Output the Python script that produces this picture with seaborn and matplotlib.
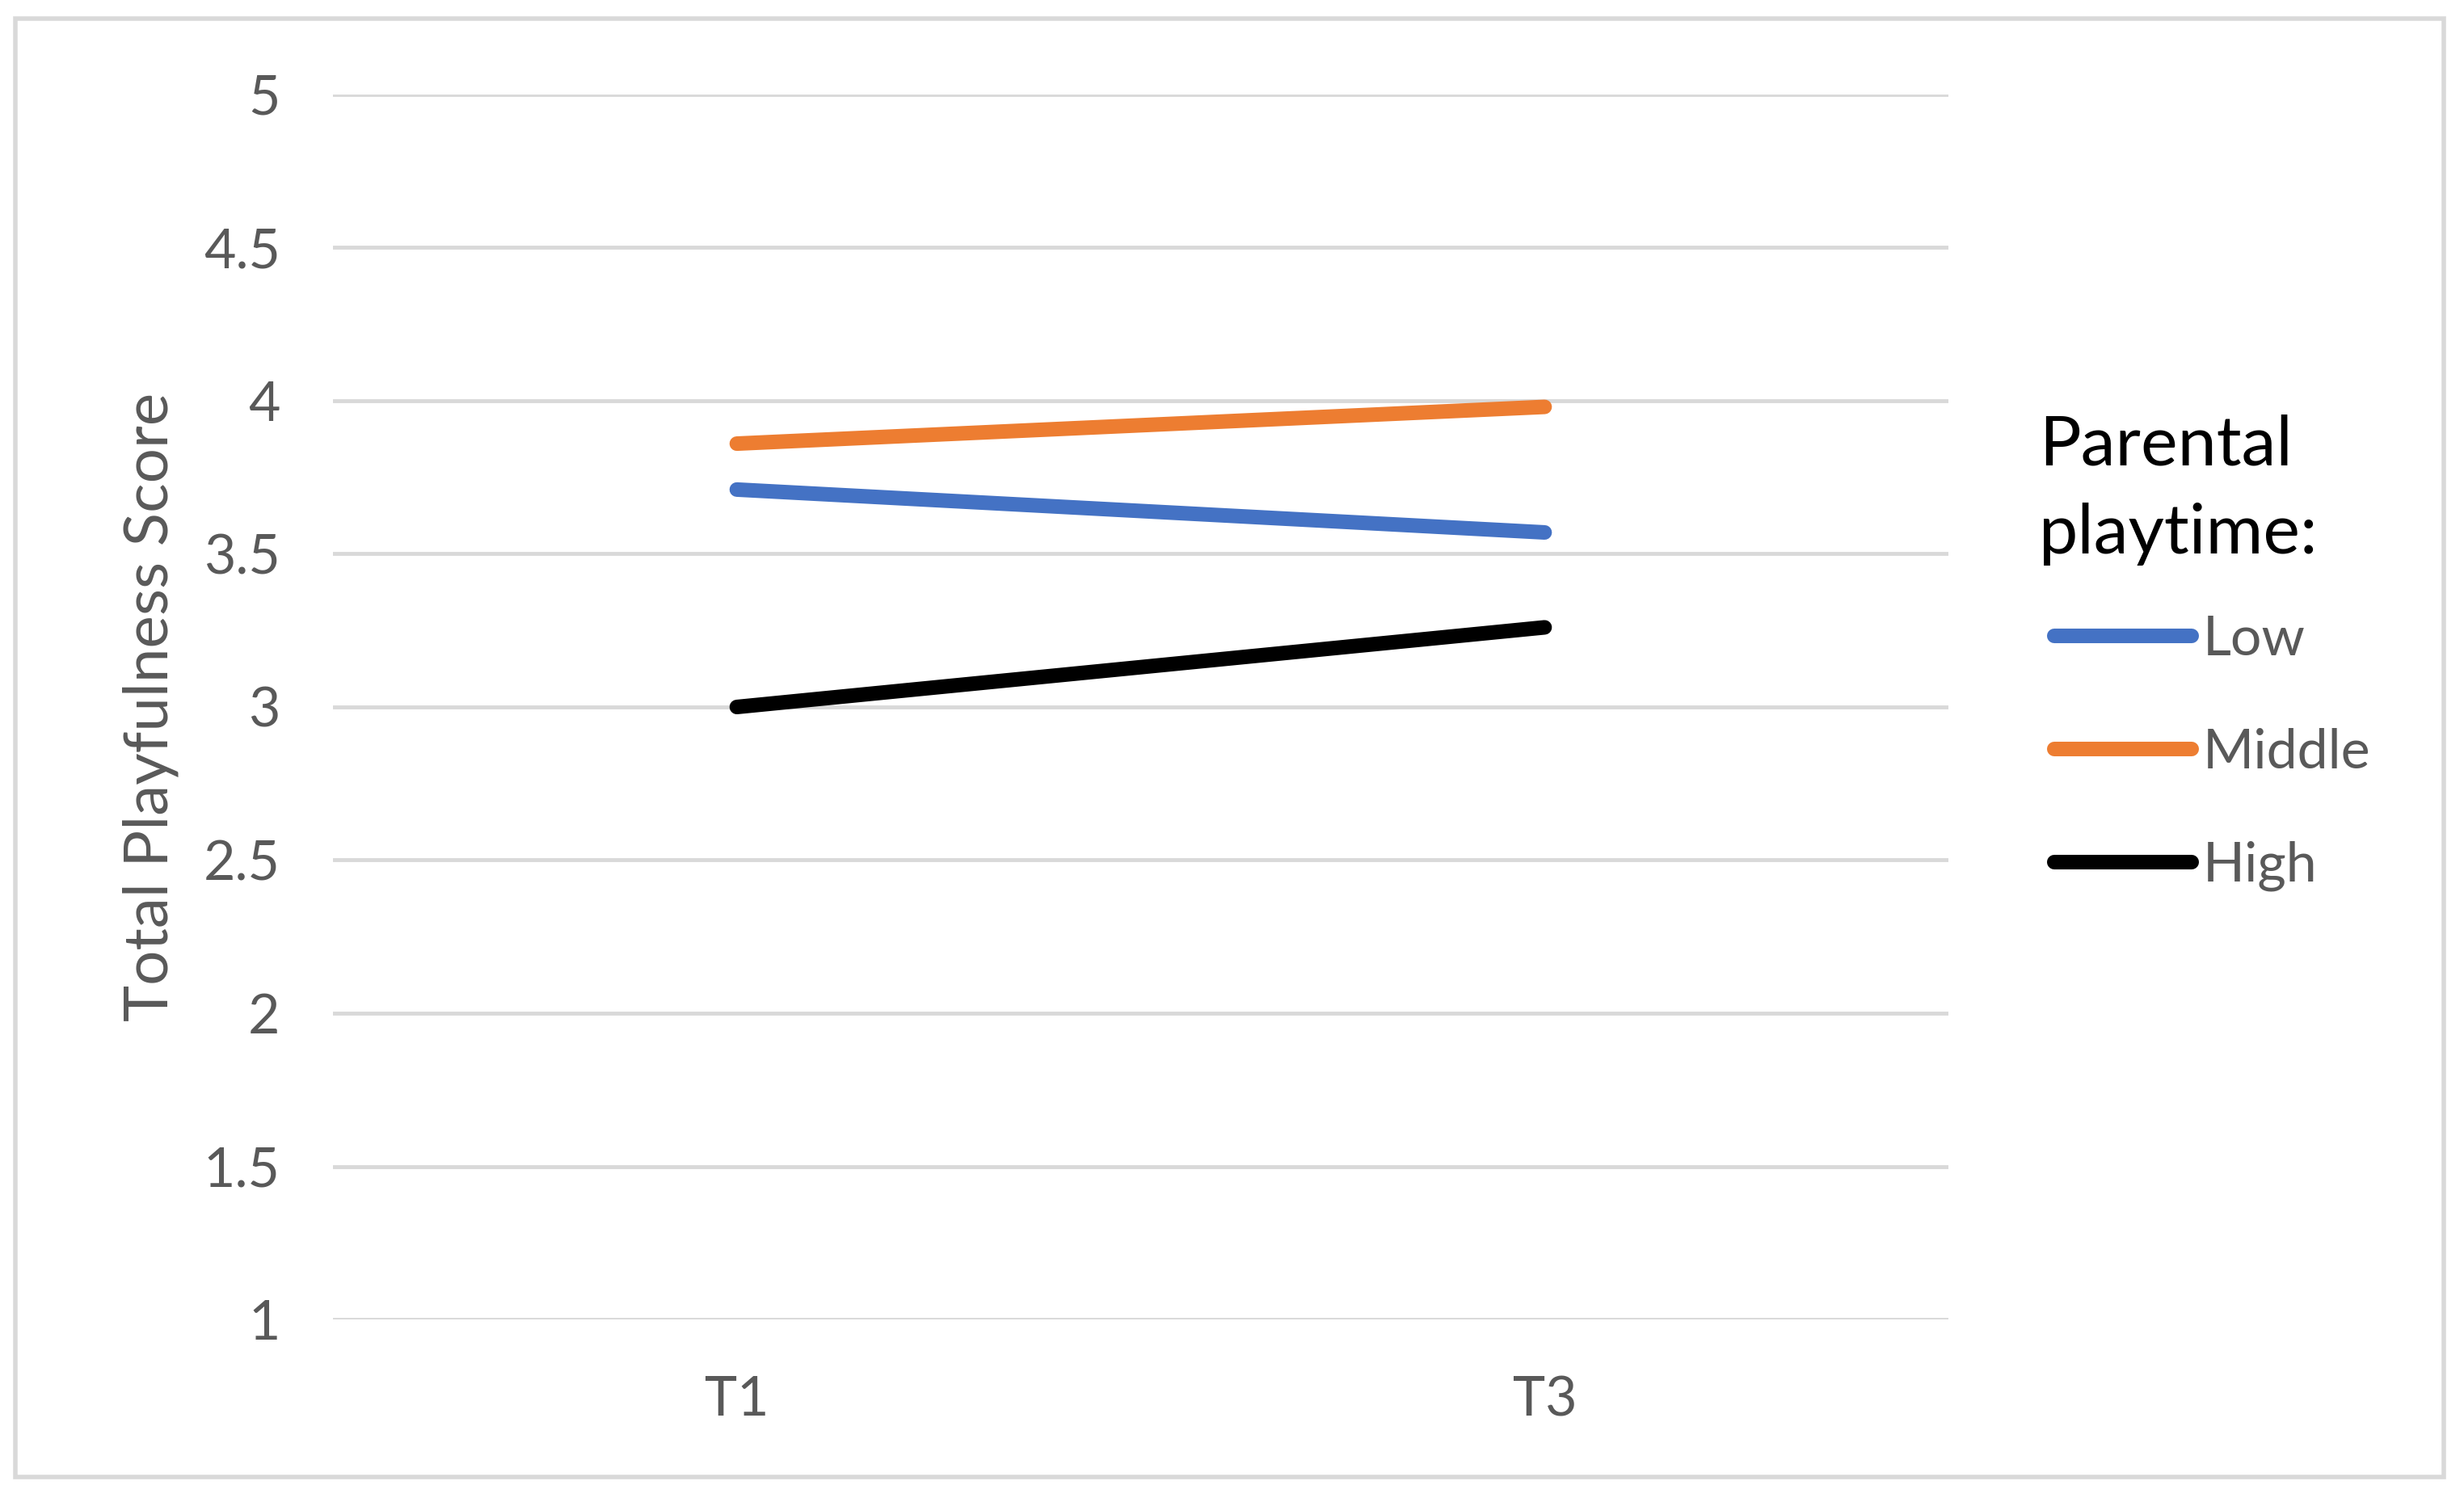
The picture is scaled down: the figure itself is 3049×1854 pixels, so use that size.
import matplotlib
matplotlib.use("Agg")
import matplotlib.pyplot as plt
import seaborn as sns
import pandas as pd
from matplotlib.patches import Rectangle

# data
times = ["T1", "T3"]
groups = ["Low", "Middle", "High"]
low = [3.71, 3.57]
middle = [3.86, 3.98]
high = [3.00, 3.26]
yticks = [1, 1.5, 2, 2.5, 3, 3.5, 4, 4.5, 5]
colors = {"Low": "#4472C4", "Middle": "#ED7D31", "High": "#000000"}

rows = []
for g, vals in zip(groups, [low, middle, high]):
    for t, v in zip(times, vals):
        rows.append({"Time": t, "Score": v, "Group": g})
df = pd.DataFrame(rows)

sns.set_theme(style="white")
plt.rcParams['font.family'] = ['Lato', 'DejaVu Sans']

fig = plt.figure(figsize=(30.49, 18.54), dpi=100)
ax = fig.add_axes([0.1351, 0.1192, 0.6557, 0.8177])

sns.lineplot(data=df, x="Time", y="Score", hue="Group", hue_order=groups,
             palette=colors, linewidth=13, ax=ax, sort=False,
             solid_capstyle="round")

ax.set_xlim(-0.5, 1.5)
ax.set_ylim(1, 5)
ax.set_yticks(yticks)
ax.set_yticklabels([f"{v:g}" for v in yticks])
ax.grid(axis="y", color="#d9d9d9", linewidth=3.5)
ax.set_axisbelow(True)
for s in ax.spines.values():
    s.set_visible(False)
ax.tick_params(axis="both", length=0, labelsize=49, labelcolor="#595959")
ax.tick_params(axis="y", pad=47)
ax.tick_params(axis="x", pad=50)
ax.set_xlabel("")
ax.set_ylabel("Total Playfulness Score", fontsize=55, color="#595959", labelpad=22)

handles, labels = ax.get_legend_handles_labels()
for h in handles:
    h.set_solid_capstyle("round")
leg = ax.legend(handles, labels, title="Parental\nplaytime:", loc="upper left",
                bbox_to_anchor=(2515 / 3049, 1 - 469 / 1854), bbox_transform=fig.transFigure,
                frameon=False, fontsize=49, title_fontsize=62, handlelength=2.5,
                handletextpad=0.2, labelspacing=1.14, alignment="left", borderaxespad=0)
for t in leg.get_texts():
    t.set_color("#595959")
title = leg.get_title()
title.set_color("#000000")
title.set_linespacing(1.5)
# title sits a bit left of the handles and a bit lower than the packer puts it
title.set_x(-19)
title.set_y(-16)

fig.patches.append(Rectangle((19 / 3049, 1 - 1828 / 1854), (3024 - 19) / 3049, (1828 - 23) / 1854,
                             transform=fig.transFigure, fill=False, edgecolor="#d9d9d9",
                             linewidth=4, zorder=0))

fig.savefig("out.png", dpi=100)
